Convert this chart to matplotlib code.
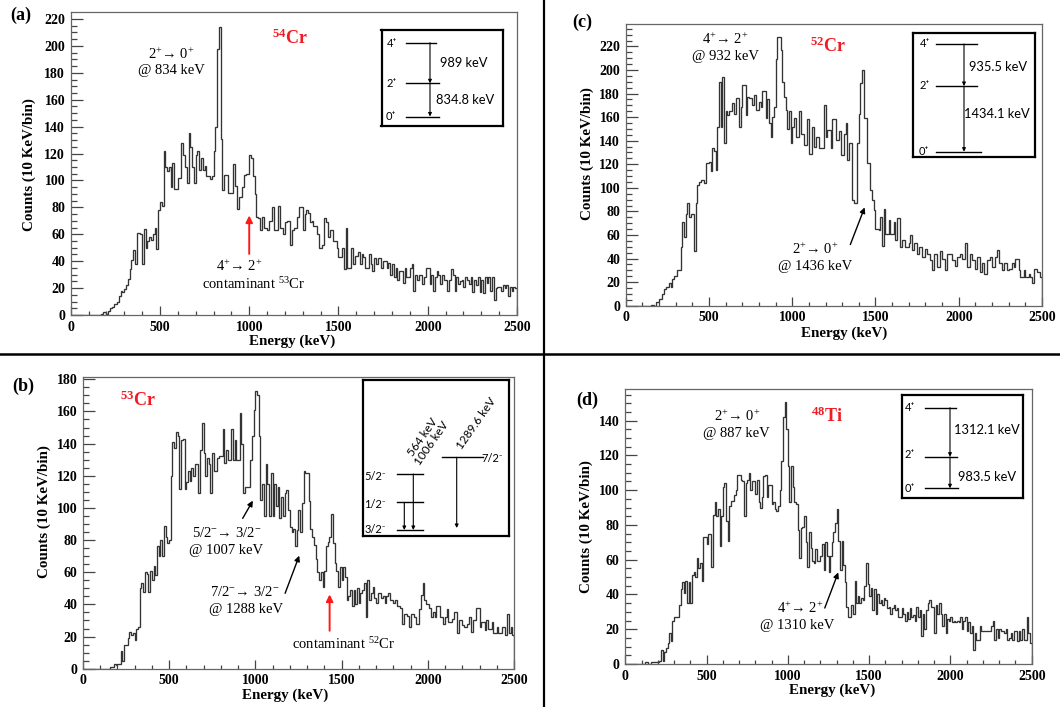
import numpy as np
import matplotlib
matplotlib.use("Agg")
import matplotlib.pyplot as plt
from matplotlib.lines import Line2D

plt.rcParams['mathtext.fontset'] = 'custom'
plt.rcParams['mathtext.rm'] = 'Liberation Serif'
plt.rcParams['mathtext.bf'] = 'Liberation Serif:bold'
plt.rcParams['mathtext.it'] = 'Liberation Serif:italic'

SERIF = ['Liberation Serif', 'DejaVu Serif']
SANS = ['Lato', 'DejaVu Sans']

# 10 keV bins, 0 - 2500 keV
bin_edges = np.arange(0, 2510, 10)
x_ticks = [0, 500, 1000, 1500, 2000, 2500]

counts_54cr = [
    0, 0, 0, 0, 0, 0, 0, 0, 0, 0,
    0, 0, 0, 0, 0, 0, 0, 1, 2, 2,
    1, 3, 5, 6, 8, 8, 10, 14, 18, 17,
    19, 22, 27, 34, 41, 48, 38, 61, 61, 60,
    38, 64, 50, 55, 58, 56, 60, 65, 49, 78,
    84, 81, 122, 110, 107, 110, 95, 113, 94, 94,
    102, 102, 128, 119, 110, 98, 135, 125, 110, 98,
    119, 122, 108, 117, 108, 111, 103, 103, 101, 103,
    122, 140, 198, 214, 131, 93, 104, 104, 91, 91,
    91, 112, 96, 79, 88, 88, 95, 104, 105, 105,
    119, 117, 103, 90, 73, 72, 63, 73, 65, 65,
    63, 70, 70, 80, 63, 63, 81, 65, 65, 60,
    69, 70, 70, 52, 63, 65, 65, 73, 80, 80,
    63, 75, 78, 76, 69, 70, 66, 66, 60, 50,
    50, 52, 72, 69, 58, 63, 63, 55, 55, 50,
    43, 43, 50, 34, 65, 35, 35, 50, 38, 44,
    44, 47, 38, 45, 43, 35, 35, 45, 38, 33,
    42, 38, 42, 42, 35, 40, 40, 35, 39, 30,
    38, 28, 35, 26, 33, 33, 24, 35, 28, 28,
    35, 38, 18, 30, 26, 30, 30, 23, 28, 35,
    35, 23, 30, 18, 28, 33, 30, 23, 30, 26,
    26, 18, 26, 34, 30, 18, 28, 23, 25, 26,
    21, 28, 26, 23, 28, 17, 26, 22, 28, 17,
    26, 16, 28, 24, 28, 18, 28, 11, 20, 21,
    21, 18, 22, 20, 22, 14, 21, 18, 21, 20,
]

counts_53cr = [
    0, 0, 0, 0, 0, 0, 0, 0, 0, 0,
    0, 0, 0, 0, 0, 0, 1, 1, 3, 2,
    3, 3, 11, 5, 15, 15, 19, 23, 21, 22,
    18, 25, 26, 50, 53, 48, 60, 59, 48, 61,
    55, 64, 58, 76, 70, 80, 70, 89, 82, 78,
    80, 120, 141, 137, 147, 145, 112, 142, 143, 112,
    116, 123, 117, 125, 120, 127, 127, 109, 136, 153,
    134, 120, 131, 127, 109, 134, 123, 123, 131, 132,
    132, 149, 128, 136, 130, 130, 149, 130, 142, 130,
    130, 159, 140, 109, 113, 113, 113, 130, 145, 161,
    173, 170, 145, 105, 115, 95, 127, 115, 95, 122,
    95, 115, 101, 113, 94, 107, 95, 109, 111, 99,
    88, 85, 87, 76, 86, 99, 85, 103, 123, 122,
    122, 104, 87, 82, 77, 68, 60, 55, 60, 51,
    61, 76, 79, 82, 96, 78, 66, 61, 51, 63,
    55, 63, 57, 43, 45, 49, 39, 49, 40, 50,
    41, 47, 49, 53, 32, 55, 43, 47, 51, 44,
    41, 47, 47, 44, 45, 41, 45, 47, 43, 43,
    41, 43, 39, 39, 38, 28, 34, 34, 33, 26,
    34, 34, 32, 28, 28, 37, 46, 53, 43, 40,
    40, 38, 32, 35, 32, 39, 39, 32, 32, 28,
    32, 37, 29, 29, 31, 35, 35, 22, 30, 30,
    27, 26, 26, 28, 32, 23, 30, 30, 38, 38,
    26, 29, 29, 24, 30, 25, 25, 29, 22, 22,
    26, 22, 22, 26, 26, 21, 34, 22, 26, 21,
]

counts_52cr = [
    0, 0, 0, 0, 0, 0, 0, 0, 0, 0,
    0, 0, 0, 0, 0, 1, 1, 0, 3, 3,
    6, 6, 10, 14, 16, 16, 19, 16, 23, 25,
    25, 30, 30, 50, 71, 58, 78, 87, 75, 78,
    78, 46, 87, 102, 105, 107, 107, 104, 121, 121,
    122, 114, 134, 131, 115, 152, 190, 152, 194, 138,
    165, 162, 165, 165, 172, 163, 176, 176, 152, 169,
    187, 187, 162, 177, 176, 176, 170, 179, 166, 166,
    173, 169, 182, 182, 159, 175, 155, 143, 160, 169,
    209, 228, 228, 217, 190, 177, 166, 150, 165, 138,
    152, 159, 143, 143, 165, 146, 146, 136, 136, 158,
    129, 129, 152, 135, 143, 143, 134, 134, 134, 170,
    143, 149, 149, 134, 158, 158, 141, 141, 148, 128,
    128, 146, 155, 124, 138, 138, 90, 87, 87, 138,
    163, 189, 200, 159, 159, 121, 121, 98, 90, 81,
    65, 65, 64, 75, 51, 82, 61, 61, 73, 61,
    61, 71, 56, 74, 74, 50, 56, 56, 50, 50,
    53, 60, 47, 53, 53, 44, 50, 50, 41, 41,
    48, 44, 44, 39, 30, 44, 44, 33, 33, 46,
    40, 40, 30, 44, 44, 44, 39, 39, 34, 41,
    41, 44, 40, 40, 53, 33, 33, 44, 39, 39,
    31, 41, 41, 29, 36, 27, 27, 39, 39, 41,
    33, 33, 41, 47, 36, 36, 30, 36, 36, 30,
    31, 31, 36, 33, 40, 40, 30, 24, 24, 30,
    24, 24, 27, 24, 19, 31, 31, 29, 29, 24,
]

counts_48ti = [
    0, 0, 0, 0, 0, 0, 0, 0, 0, 0,
    0, 0, 1, 1, 0, 0, 1, 1, 1, 1,
    1, 2, 8, 2, 7, 9, 12, 18, 13, 25,
    27, 27, 27, 34, 43, 47, 41, 48, 35, 47,
    35, 51, 53, 50, 61, 55, 58, 48, 73, 73,
    69, 75, 75, 56, 86, 93, 85, 89, 68, 85,
    102, 104, 82, 71, 91, 94, 94, 97, 100, 109,
    109, 106, 105, 85, 104, 106, 110, 100, 105, 105,
    98, 106, 93, 90, 96, 108, 109, 96, 103, 103,
    92, 93, 89, 88, 91, 100, 117, 142, 151, 135,
    114, 93, 114, 102, 93, 92, 77, 61, 78, 79,
    85, 70, 56, 76, 67, 59, 58, 66, 59, 59,
    62, 69, 54, 70, 62, 53, 62, 70, 76, 81,
    89, 71, 54, 71, 57, 47, 33, 27, 27, 34,
    29, 48, 35, 39, 35, 38, 37, 45, 58, 46,
    39, 44, 31, 43, 29, 40, 35, 37, 34, 38,
    37, 32, 33, 29, 32, 34, 31, 32, 27, 27,
    32, 29, 25, 30, 26, 32, 27, 28, 25, 33,
    27, 31, 16, 29, 20, 31, 35, 37, 33, 33,
    18, 34, 29, 35, 29, 22, 29, 18, 26, 25,
    27, 24, 25, 24, 25, 24, 27, 20, 25, 27,
    19, 24, 18, 22, 8, 18, 14, 14, 22, 19,
    19, 19, 19, 19, 19, 22, 25, 14, 20, 15,
    20, 19, 19, 18, 20, 14, 15, 18, 14, 19,
    19, 13, 19, 14, 20, 14, 14, 27, 18, 12,
]

W, H = 1060, 707
fig = plt.figure(figsize=(10.6, 7.07), dpi=100)
fig.patch.set_facecolor('white')


def fpos(l, t, r, b):
    return [l / W, 1 - b / H, (r - l) / W, (b - t) / H]


def fxy(x, y):
    return (x / W, 1 - y / H)


BLACK_ARROW = dict(arrowstyle='-|>', color='k', lw=1.0, mutation_scale=8,
                   shrinkA=0, shrinkB=0)
RED_ARROW = dict(arrowstyle='-|>', color='#ff1a1a', lw=1.4, mutation_scale=10,
                 shrinkA=0, shrinkB=0)
RED = '#ee1c24'


def panel(box, counts, ymax, ytop, letter, letter_xy, ylab_xy, xlab_xy):
    ax = fig.add_axes(fpos(*box))
    ax.stairs(counts, bin_edges, color='#333333', lw=0.95)
    ax.set_xlim(0, 2500)
    ax.set_ylim(0, ymax)
    ax.set_xticks(x_ticks)
    ax.set_xticks(np.arange(0, 2501, 100), minor=True)
    ax.set_yticks(np.arange(0, ytop + 1, 20))
    ax.set_yticks(np.arange(0, ymax, 5), minor=True)
    ax.tick_params(axis='both', which='both', direction='in', top=False,
                   right=False, color='#444444', width=0.9)
    ax.tick_params(axis='x', which='major', length=6.5, pad=4)
    ax.tick_params(axis='x', which='minor', length=3.2)
    ax.tick_params(axis='y', which='major', length=8.5, pad=4)
    ax.tick_params(axis='y', which='minor', length=4.2)
    for lab in ax.get_xticklabels() + ax.get_yticklabels():
        lab.set_fontfamily(SERIF)
        lab.set_fontweight('bold')
        lab.set_fontsize(10)
    for s in ax.spines.values():
        s.set_color('#666666')
        s.set_linewidth(0.9)
    fig.text(*fxy(*letter_xy), letter, family=SERIF, weight='bold',
             fontsize=13, ha='center', va='center')
    fig.text(*fxy(*ylab_xy), 'Counts (10 KeV/bin)', family=SERIF,
             weight='bold', fontsize=10.8, rotation=90, ha='center',
             va='center')
    fig.text(*fxy(*xlab_xy), 'Energy (keV)', family=SERIF, weight='bold',
             fontsize=10.8, ha='center', va='center')
    return ax


def note(ax, x, y, s, color='k', size=10.5):
    ax.text(x, y, s, family=SERIF, fontsize=size, color=color,
            ha='center', va='center')


def iso(ax, x, y, s):
    ax.text(x, y, s, family=SERIF, fontsize=13, color=RED,
            weight='bold', ha='center', va='center')


def inset(box):
    l, t, r, b = box
    ia = fig.add_axes(fpos(l, t, r, b))
    ia.set_xlim(l, r)
    ia.set_ylim(b, t)
    ia.set_xticks([])
    ia.set_yticks([])
    for s in ia.spines.values():
        s.set_color('k')
        s.set_linewidth(1.6)
    return ia


def level(ia, x0, x1, y):
    ia.plot([x0, x1], [y, y], color='k', lw=1.0)


def drop(ia, x, y0, y1):
    ia.annotate('', xy=(x, y1), xytext=(x, y0),
                arrowprops=dict(arrowstyle='-|>', color='k', lw=0.8,
                                mutation_scale=5, shrinkA=0, shrinkB=0))


def lab(ia, x, y, s, size=8, **kw):
    ia.text(x, y, s, family=SANS, fontsize=size, ha='center', va='center', **kw)


# (a) 54Cr
ax = panel((70.7, 12.3, 517, 315), counts_54cr, 225, 220, '(a)',
           (21, 15), (29.7, 165), (292, 341))
note(ax, 564, 194, '2$^{+}$→ 0$^{+}$')
note(ax, 564, 181.5, '@ 834 keV')
iso(ax, 1227, 205.6, r'$^{\mathbf{54}}$Cr')
ax.annotate('', xy=(1000, 74), xytext=(1000, 45.4), arrowprops=RED_ARROW)
note(ax, 943, 36.3, '4$^{+}$→ 2$^{+}$')
note(ax, 1025, 23, 'contaminant $^{53}$Cr')

ia = inset((381.5, 30, 502.5, 126))
level(ia, 405.7, 436, 42.7)
level(ia, 405.7, 438.7, 83.3)
level(ia, 405.7, 438.7, 116.5)
drop(ia, 430, 42.7, 83.3)
drop(ia, 430, 83.3, 116.5)
lab(ia, 391.7, 43.3, '4⁺')
lab(ia, 391.7, 83.3, '2⁺')
lab(ia, 390.7, 116.7, '0⁺')
lab(ia, 463.3, 63.3, '989 keV', size=9.3)
lab(ia, 465, 100, '834.8 keV', size=9.3)

# (c) 52Cr
ax = panel((625.7, 24, 1042, 305.7), counts_52cr, 239, 220, '(c)',
           (582.4, 22.7), (586.8, 153.3), (844, 333.3))
note(ax, 599, 225.7, '4$^{+}$→ 2$^{+}$')
note(ax, 599, 211.5, '@ 932 keV')
iso(ax, 1215, 220, r'$^{\mathbf{52}}$Cr')
note(ax, 1136, 47.6, '2$^{+}$→ 0$^{+}$')
note(ax, 1136, 32.9, '@ 1436 keV')
ax.annotate('', xy=(1435, 83.4), xytext=(1349, 51.9), arrowprops=BLACK_ARROW)

ia = inset((913.3, 33.3, 1035, 157))
level(ia, 935.7, 977.3, 44)
level(ia, 935.7, 977.3, 86)
level(ia, 935.7, 980.7, 151.7)
drop(ia, 964, 44, 86)
drop(ia, 964, 86, 151.7)
lab(ia, 925, 43.3, '4⁺')
lab(ia, 924.3, 86, '2⁺')
lab(ia, 924.3, 151.7, '0⁺')
lab(ia, 998.3, 66.7, '935.5 keV', size=9.3)
lab(ia, 997.3, 114.3, '1434.1 keV', size=9.3)

# (b) 53Cr
ax = panel((82.8, 376.7, 514, 668.7), counts_53cr, 181.6, 180, '(b)',
           (23.7, 386.7), (44, 511.7), (285.3, 695))
iso(ax, 320, 167, r'$^{\mathbf{53}}$Cr')
note(ax, 833, 84.6, '5/2$^{-}$→ 3/2$^{-}$')
note(ax, 833, 73.8, '@ 1007 keV')
ax.annotate('', xy=(986, 104.5), xytext=(927, 93.5), arrowprops=BLACK_ARROW)
note(ax, 937, 47.5, '7/2$^{-}$→ 3/2$^{-}$')
note(ax, 945, 36.9, '@ 1288 keV')
ax.annotate('', xy=(1255, 70.3), xytext=(1173, 46.9), arrowprops=BLACK_ARROW)
ax.annotate('', xy=(1431, 46.2), xytext=(1431, 23.6), arrowprops=RED_ARROW)
note(ax, 1510, 15.1, 'contaminant $^{52}$Cr')

ia = inset((363, 380, 509, 536))
level(ia, 396.7, 422.7, 474)
level(ia, 396.7, 422.7, 502.3)
level(ia, 396.7, 423.3, 530)
level(ia, 441.7, 482.7, 457.3)
drop(ia, 404.3, 502.3, 530)
drop(ia, 413.3, 474, 530)
drop(ia, 456.7, 457.3, 528)
lab(ia, 375, 476.7, '5/2⁻')
lab(ia, 375, 504, '1/2⁻')
lab(ia, 375, 529.3, '3/2⁻')
lab(ia, 492, 459, '7/2⁻')
lab(ia, 427, 440, '564 keV\n1006 keV', size=8.5, rotation=55,
    multialignment='center', linespacing=1.0)
lab(ia, 476.7, 423.3, '1289.6 keV', size=8.5, rotation=55)

# (d) 48Ti
ax = panel((625.3, 389, 1031.7, 664), counts_48ti, 158.2, 140, '(d)',
           (587.5, 400), (585.8, 526.7), (832, 690.7))
note(ax, 686, 142.7, '2$^{+}$→ 0$^{+}$')
note(ax, 686, 132.7, '@ 887 keV')
iso(ax, 1244, 142.3, r'$^{\mathbf{48}}$Ti')
note(ax, 1077, 32.2, '4$^{+}$→ 2$^{+}$')
note(ax, 1057, 22, '@ 1310 keV')
ax.annotate('', xy=(1310, 52.7), xytext=(1227, 32.2), arrowprops=BLACK_ARROW)

ia = inset((901.7, 395, 1022.7, 498))
level(ia, 925, 955.7, 407.7)
level(ia, 925, 957.3, 456.7)
level(ia, 925, 958, 488.3)
drop(ia, 950, 407.7, 456.7)
drop(ia, 950, 456.7, 488.3)
lab(ia, 910, 407.3, '4⁺')
lab(ia, 910, 455, '2⁺')
lab(ia, 910, 488.3, '0⁺')
lab(ia, 986.7, 430, '1312.1 keV', size=9.3)
lab(ia, 986.7, 476.7, '983.5 keV', size=9.3)

# separators between the four panels
fig.add_artist(Line2D([544 / W, 544 / W], [0, 1], transform=fig.transFigure,
                      color='k', lw=1.6))
fig.add_artist(Line2D([0, 1], [1 - 354 / H, 1 - 354 / H],
                      transform=fig.transFigure, color='k', lw=1.8))

fig.savefig('out.png', dpi=100)
